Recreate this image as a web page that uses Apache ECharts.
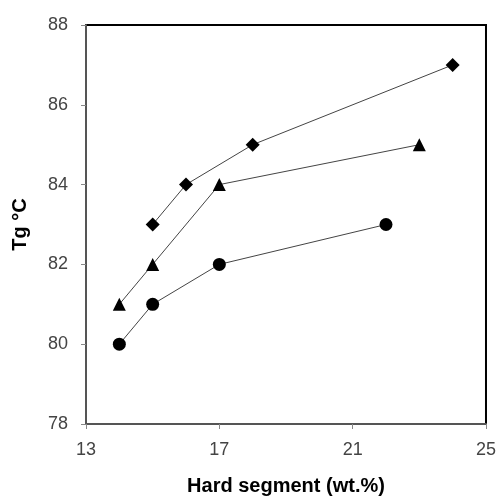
<!DOCTYPE html>
<html><head><meta charset="utf-8">
<script src="https://cdn.jsdelivr.net/npm/echarts@6/dist/echarts.min.js"></script>
<style>html,body{margin:0;padding:0;background:#fff}#c{width:499px;height:501px}</style>
</head><body><div id="c"></div>
<script>
const diamondX = [15, 16, 18, 24];
const diamondY = [83, 84, 85, 87];
const triangleX = [14, 15, 17, 23];
const triangleY = [81, 82, 84, 85];
const circleX = [14, 15, 17, 22];
const circleY = [80, 81, 82, 83];
const xLabel = 'Hard segment (wt.%)';
const yLabel = 'Tg °C';

const pairs = (xs, ys) => xs.map((x, i) => [x, ys[i]]);
const font = '"Liberation Sans", Arial, sans-serif';
const mk = (name, symbol, size, xs, ys) => ({
  name, type: 'line', data: pairs(xs, ys), symbol, symbolSize: size,
  itemStyle: { color: '#000' },
  lineStyle: { color: '#444', width: 1 },
  animation: false
});
const chart = echarts.init(document.getElementById('c'));
chart.setOption({
  backgroundColor: '#fff',
  grid: { left: 86, right: 12, top: 25, bottom: 75, show: true, borderColor: '#000', borderWidth: 2 },
  xAxis: {
    type: 'value', min: 13, max: 25, interval: 4,
    name: xLabel, nameLocation: 'middle', nameGap: 52,
    nameTextStyle: { fontFamily: font, fontSize: 20, fontWeight: 'bold', color: '#000' },
    axisLine: { lineStyle: { color: '#555', width: 2 } },
    axisTick: { show: true, length: 5, lineStyle: { color: '#888', width: 1 } },
    axisLabel: { fontFamily: font, fontSize: 18, color: '#444', margin: 17 },
    splitLine: { show: false }
  },
  yAxis: {
    type: 'value', min: 78, max: 88, interval: 2,
    name: yLabel, nameLocation: 'middle', nameGap: 56,
    nameTextStyle: { fontFamily: font, fontSize: 20, fontWeight: 'bold', color: '#000' },
    axisLine: { lineStyle: { color: '#555', width: 2 } },
    axisTick: { show: true, length: 5, lineStyle: { color: '#888', width: 1 } },
    axisLabel: { fontFamily: font, fontSize: 18, color: '#444', margin: 18 },
    splitLine: { show: false }
  },
  series: [
    mk('diamond', 'diamond', 14, diamondX, diamondY),
    mk('triangle', 'triangle', 13, triangleX, triangleY),
    mk('circle', 'circle', 13, circleX, circleY)
  ]
});
</script></body></html>
